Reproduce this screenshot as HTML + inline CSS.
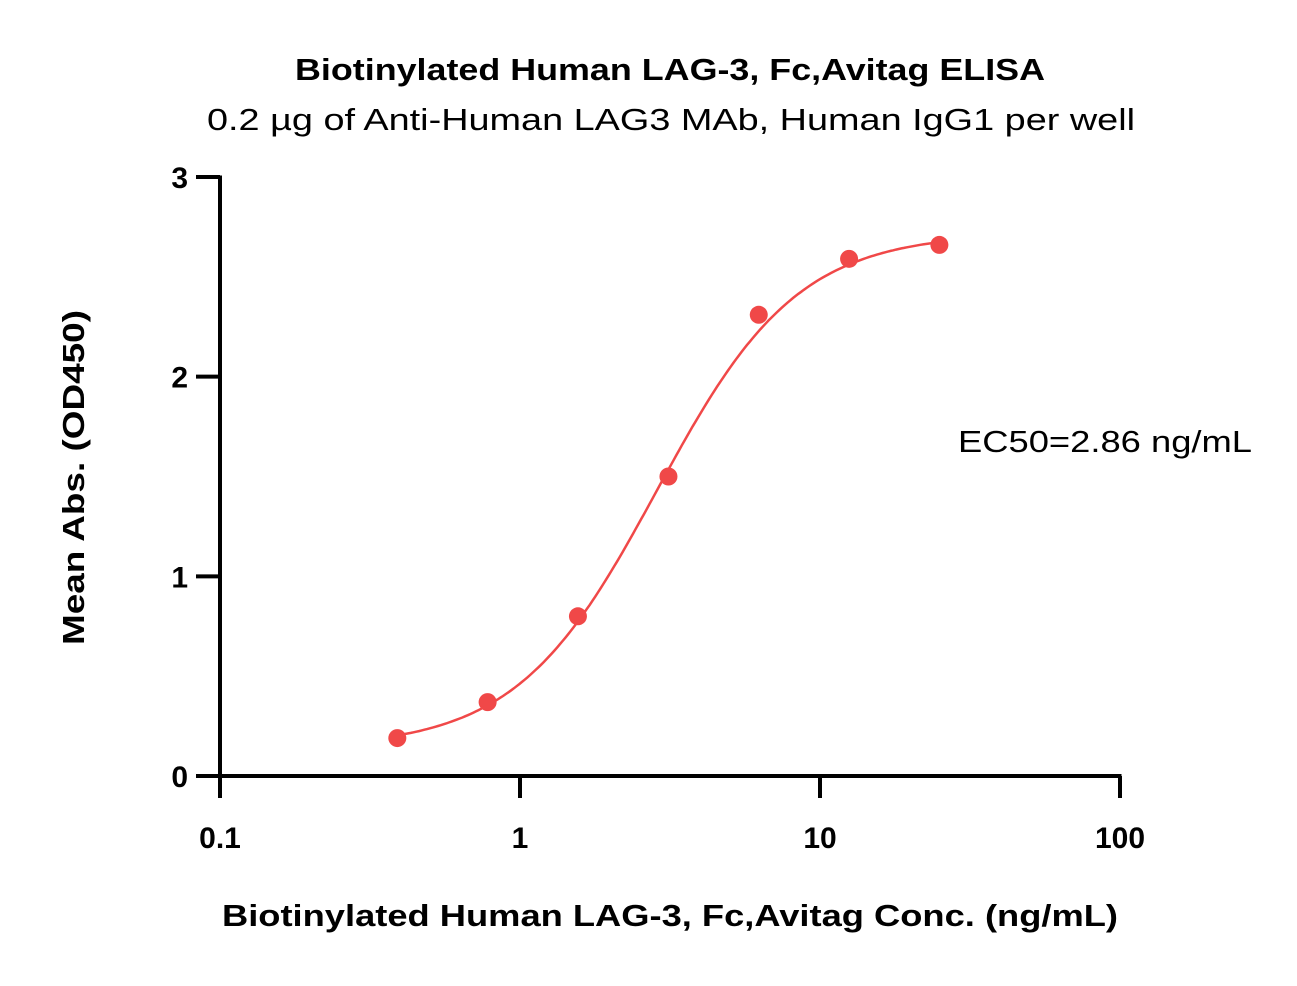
<!DOCTYPE html>
<html><head><meta charset="utf-8"><style>
body{margin:0;background:#fff}
svg text{font-family:"Liberation Sans",Arial,sans-serif;fill:#000}
</style></head><body>
<svg id="chart" width="1297" height="981" viewBox="0 0 1297 981" xmlns="http://www.w3.org/2000/svg">
<text x="295" y="80" font-size="31" font-weight="bold" textLength="750" lengthAdjust="spacingAndGlyphs">Biotinylated Human LAG-3, Fc,Avitag ELISA</text>
<text x="207" y="130" font-size="31" textLength="928" lengthAdjust="spacingAndGlyphs">0.2 µg of Anti-Human LAG3 MAb, Human IgG1 per well</text>
<text transform="translate(84,645) rotate(-90)" font-size="31" font-weight="bold" textLength="335" lengthAdjust="spacingAndGlyphs">Mean Abs. (OD450)</text>
<text x="222" y="926" font-size="31" font-weight="bold" textLength="896" lengthAdjust="spacingAndGlyphs">Biotinylated Human LAG-3, Fc,Avitag Conc. (ng/mL)</text>
<text x="958" y="452" font-size="31" textLength="294" lengthAdjust="spacingAndGlyphs">EC50=2.86 ng/mL</text>
<g id="axes"></g>
<g id="plot"></g>
</svg>
<script>
const xValues=[0.39,0.78,1.56,3.125,6.25,12.5,25];
const yValues=[0.19,0.37,0.80,1.50,2.31,2.59,2.66];
const xTicks=[0.1,1,10,100];
const xTickLabels=["0.1","1","10","100"];
const yTicks=[0,1,2,3];
const yTickLabels=["0","1","2","3"];
const fitBottom=0.14, fitTop=2.72, fitEC50=2.86, fitHill=1.85;
const NS="http://www.w3.org/2000/svg";
const X0=220,X1=1120,Y0=776,Y1=177;
function xs(v){return X0+(Math.log10(v)+1)/3*(X1-X0);}
function ys(v){return Y0-v/3*(Y0-Y1);}
function mk(tag,attrs,parent){const e=document.createElementNS(NS,tag);for(const k in attrs)e.setAttribute(k,attrs[k]);parent.appendChild(e);return e;}
const axes=document.getElementById('axes'),plot=document.getElementById('plot');
let a=mk('line',{x1:X0,y1:Y0,x2:X1+1.5,y2:Y0,stroke:'#000','stroke-width':4},axes);


a=mk('line',{x1:X0,y1:Y0+1.5,x2:X0,y2:Y1-1.5,stroke:'#000','stroke-width':4},axes);


xTicks.forEach((t,i)=>{
 const l=mk('line',{x1:xs(t),y1:Y0,x2:xs(t),y2:Y0+22,stroke:'#000','stroke-width':4},axes);
 
 
 const tx=mk('text',{x:xs(t),y:848,'text-anchor':'middle','font-size':30,'font-weight':'bold'},axes);
 tx.textContent=xTickLabels[i];
 
 
});
yTicks.forEach((t,i)=>{
 const l=mk('line',{x1:X0-24,y1:ys(t),x2:X0,y2:ys(t),stroke:'#000','stroke-width':4},axes);
 
 
 const tx=mk('text',{x:188,y:ys(t)+11,'text-anchor':'end','font-size':30,'font-weight':'bold'},axes);
 tx.textContent=yTickLabels[i];
 
 
});
let d='';
const lo=Math.log10(xValues[0]),hi=Math.log10(xValues[xValues.length-1]);
for(let i=0;i<=200;i++){const lx=lo+(hi-lo)*i/200,v=Math.pow(10,lx);
 const y=fitBottom+(fitTop-fitBottom)/(1+Math.pow(fitEC50/v,fitHill));
 d+=(i?'L':'M')+xs(v).toFixed(1)+' '+ys(y).toFixed(1);}
const c=mk('path',{d:d,fill:'none',stroke:'#f04848','stroke-width':2.5},plot);


xValues.forEach((x,i)=>{
 const p=mk('circle',{cx:xs(x),cy:ys(yValues[i]),r:9,fill:'#f04848'},plot);
 
 
});
</script>
</body></html>
